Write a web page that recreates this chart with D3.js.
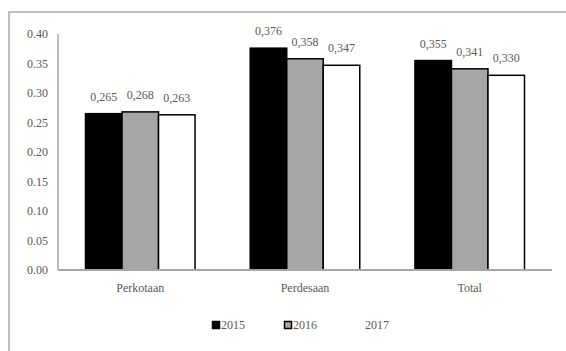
<!DOCTYPE html>
<html>
<head>
<meta charset="utf-8">
<script src="https://cdn.jsdelivr.net/npm/d3@7"></script>
<style>
    body { margin: 0; background: #fff; }
    svg text { font-family: "Liberation Serif", "Times New Roman", serif; fill: #595959; }
</style>
</head>
<body>
<svg id="chart" width="566" height="351"></svg>
<script>
var categories = ["Perkotaan", "Perdesaan", "Total"];
var years = ["2015", "2016", "2017"];
var values2015 = [0.265, 0.376, 0.355];
var values2016 = [0.268, 0.358, 0.341];
var values2017 = [0.263, 0.347, 0.330];
var yTicks = [0, 0.05, 0.10, 0.15, 0.20, 0.25, 0.30, 0.35, 0.40];

var series = [values2015, values2016, values2017];
var fills = ["#000000", "#a6a6a6", "#ffffff"];

var svg = d3.select("#chart");

// outer frame (only top and left show)
svg.append("path")
    .attr("d", "M9,351V12H566")
    .attr("fill", "none")
    .attr("stroke", "#bfbfbf")
    .attr("stroke-width", 2);

var x0 = d3.scaleBand().domain(categories).range([58, 552]).paddingInner(0.335).paddingOuter(0.167);
var x1 = d3.scaleBand().domain(years).range([0, x0.bandwidth()]);
var y = d3.scaleLinear().domain([0, 0.40]).range([270, 34]);

// y tick labels
svg.append("g")
    .selectAll("text")
    .data(yTicks)
    .enter()
    .append("text")
    .attr("x", 48)
    .attr("y", function (d) { return y(d) + 4; })
    .attr("text-anchor", "end")
    .style("font-size", "12px")
    .text(function (d) { return d.toFixed(2); });

// bars
var groups = svg.append("g")
    .selectAll("g")
    .data(categories)
    .enter()
    .append("g")
    .attr("transform", function (d) { return "translate(" + x0(d) + ",0)"; });

groups.selectAll("rect")
    .data(function (d, i) {
        return years.map(function (yr, j) { return { year: yr, value: series[j][i], k: j }; });
    })
    .enter()
    .append("rect")
    .attr("x", function (d) { return x1(d.year); })
    .attr("y", function (d) { return y(d.value); })
    .attr("width", x1.bandwidth())
    .attr("height", function (d) { return y(0) - y(d.value); })
    .attr("fill", function (d) { return fills[d.k]; })
    .attr("stroke", "#000")
    .attr("stroke-width", 1.5);

groups.selectAll("text")
    .data(function (d, i) {
        return years.map(function (yr, j) { return { year: yr, value: series[j][i] }; });
    })
    .enter()
    .append("text")
    .attr("x", function (d) { return x1(d.year) + x1.bandwidth() / 2; })
    .attr("y", function (d) { return y(d.value) - 13; })
    .attr("text-anchor", "middle")
    .style("font-size", "12px")
    .text(function (d) { return d.value.toFixed(3).replace(".", ","); });

// axes lines
svg.append("line")
    .attr("x1", 58).attr("x2", 58)
    .attr("y1", y(0.40)).attr("y2", y(0))
    .attr("stroke", "#a6a6a6").attr("stroke-width", 1.5);
svg.append("line")
    .attr("x1", 58).attr("x2", 552)
    .attr("y1", y(0)).attr("y2", y(0))
    .attr("stroke", "#a6a6a6").attr("stroke-width", 2);

// category labels
svg.append("g")
    .selectAll("text")
    .data(categories)
    .enter()
    .append("text")
    .attr("x", function (d) { return x0(d) + x0.bandwidth() / 2; })
    .attr("y", 292)
    .attr("text-anchor", "middle")
    .style("font-size", "12px")
    .text(function (d) { return d; });

// legend
var legendX = [212, 284, 356];
var legend = svg.append("g")
    .selectAll("g")
    .data(years)
    .enter()
    .append("g")
    .attr("transform", function (d, i) { return "translate(" + legendX[i] + ",321)"; });
legend.append("rect")
    .attr("x", 0.5).attr("y", 0.5)
    .attr("width", 7).attr("height", 7)
    .attr("fill", function (d, i) { return fills[i]; })
    .attr("stroke", function (d, i) { return i < 2 ? "#000" : "#fff"; })
    .attr("stroke-width", 1.5);
legend.append("text")
    .attr("x", 9)
    .attr("y", 8)
    .style("font-size", "12px")
    .text(function (d) { return d; });
</script>
</body>
</html>
